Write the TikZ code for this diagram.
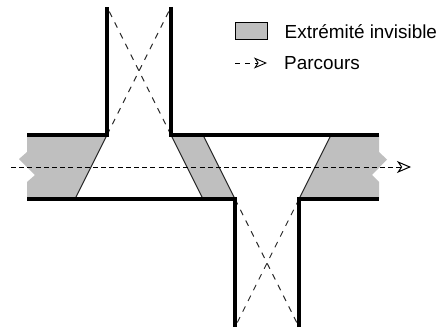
\documentclass[tikz,border=0pt]{standalone}
\usepackage{fontspec}
\setmainfont{Liberation Sans}
\usetikzlibrary{arrows.meta, positioning}

\definecolor{endgray}{gray}{0.75}

\tikzset{
  wall/.style={line width=3.2pt, line cap=butt, line join=miter},
  edgeline/.style={line width=1pt, draw=black!85},
  sight/.style={line width=0.9pt, dash pattern=on 6pt off 6pt, draw=black!85},
  route/.style={line width=1pt, dash pattern=on 5pt off 3.2pt, -{Stealth[open, length=14pt, width=12pt, inset=4pt]}},
  legendtext/.style={font=\fontsize{18.9}{20}\selectfont, anchor=west, inner sep=0pt}
}

\begin{document}
\begin{tikzpicture}[x=1pt, y=-1pt]
    \useasboundingbox (0,0) rectangle (441,329);

    % corners of the corridors
    \coordinate (tl) at (107,135);
    \coordinate (tr) at (171,135);
    \coordinate (bl) at (235,199);
    \coordinate (br) at (299,199);
    \coordinate (ta) at (107,7);
    \coordinate (tb) at (171,7);
    \coordinate (ba) at (235,327);
    \coordinate (bb) at (299,327);
    \coordinate (lt) at (27,135);
    \coordinate (lb) at (27,199);
    \coordinate (rt) at (379,135);
    \coordinate (rb) at (379,199);
    \coordinate (sl) at (75,199);
    \coordinate (sm) at (203,135);
    \coordinate (sn) at (203,199);
    \coordinate (sr) at (331,135);

    % invisible ends
    \fill[endgray] (lt) -- (tl) -- (sl) -- (lb) -- (27,182) -- (35,175) -- (19,159) -- (27,152) -- cycle;
    \fill[endgray] (tr) -- (sm) -- (bl) -- (sn) -- cycle;
    \fill[endgray] (sr) -- (rt) -- (379,152) -- (387,159.5) -- (372,175) -- (379,182) -- (rb) -- (br) -- cycle;

    \draw[edgeline] (tl) -- (sl);
    \draw[edgeline] (tr) -- (sn);
    \draw[edgeline] (sm) -- (bl);
    \draw[edgeline] (sr) -- (br);

    \draw[sight] (tl) -- (tb);
    \draw[sight] (tr) -- (ta);
    \draw[sight] (bl) -- (bb);
    \draw[sight] (br) -- (ba);

    \coordinate (start) at (11,167);
    \coordinate (stop) at (411,167);
    \draw[route] (start) -- (stop);

    \draw[wall] (lt) -- (tl) -- (ta);
    \draw[wall] (tb) -- (tr) -- (rt);
    \draw[wall] (lb) -- (bl) -- (ba);
    \draw[wall] (bb) -- (br) -- (rb);

    % legend
    \node[draw=black, fill=endgray, line width=1pt, minimum width=32pt, minimum height=17pt, inner sep=0pt] (boxkey) at (251,31.5) {};
    \node[legendtext, right=17pt of boxkey] (boxlabel) {Extrémité invisible};
    \coordinate (routea) at (235,63);
    \coordinate (routeb) at (267,63);
    \draw[route, line width=0.9pt, dash pattern=on 5pt off 5pt, -{Stealth[open, length=13pt, width=11pt, inset=3.5pt]}] (routea) -- (routeb);
    \node[legendtext] (routelabel) at (284,63.5) {Parcours};
\end{tikzpicture}
\end{document}
